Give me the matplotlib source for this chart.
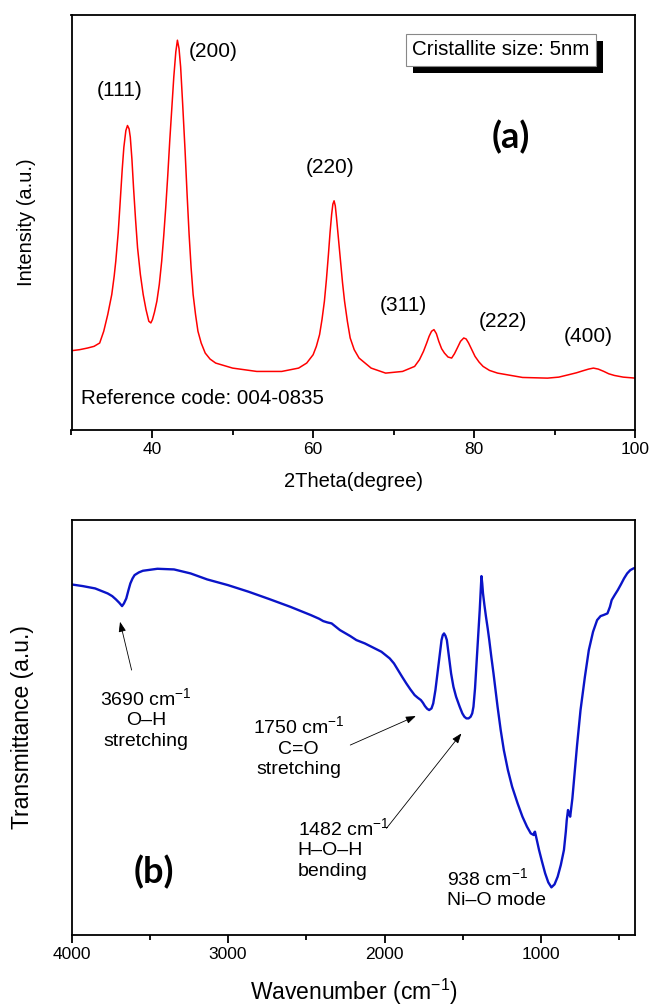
import numpy as np
from matplotlib import pyplot as plt
from matplotlib import patheffects
from matplotlib.ticker import MultipleLocator

plt.rcParams['font.family'] = ['Liberation Sans', 'DejaVu Sans']
plt.rcParams['mathtext.fontset'] = 'custom'
plt.rcParams['mathtext.rm'] = 'Liberation Sans'
plt.rcParams['mathtext.it'] = 'Liberation Sans:italic'
plt.rcParams['mathtext.bf'] = 'Liberation Sans:bold'

# XRD pattern (2theta in degree, intensity in a.u.)
two_theta = [30.0, 31.0, 32.0, 32.8, 33.5, 34.0, 34.5, 35.0, 35.3, 35.5,
             35.8, 36.0, 36.3, 36.5, 36.75, 36.95, 37.15, 37.3, 37.5, 37.7,
             37.95, 38.2, 38.55, 38.9, 39.25, 39.6, 39.85, 40.05, 40.3, 40.6,
             40.9, 41.2, 41.45, 41.7, 41.95, 42.2, 42.45, 42.7, 42.95, 43.15,
             43.35, 43.55, 43.8, 44.1, 44.35, 44.6, 44.85, 45.1, 45.4, 45.7,
             46.1, 46.6, 47.2, 47.9, 50.0, 53.0, 56.1, 58.2, 59.2, 60.0,
             60.4, 60.8, 61.1, 61.4, 61.65, 61.9, 62.1, 62.3, 62.45, 62.6,
             62.75, 62.9, 63.15, 63.4, 63.65, 63.9, 64.25, 64.6, 65.1, 65.7,
             67.2, 69.0, 71.1, 72.6, 73.2, 73.7, 74.1, 74.4, 74.7, 75.0,
             75.3, 75.6, 75.95, 76.3, 76.75, 77.2, 77.55, 77.9, 78.3, 78.7,
             79.0, 79.3, 79.7, 80.1, 80.6, 81.1, 81.9, 82.9, 86.0, 89.1,
             90.5, 91.7, 92.7, 93.5, 94.2, 94.8, 95.4, 96.1, 96.7, 97.4,
             98.5, 100.0]
intensity = [237, 240, 245, 250, 260, 295, 345, 405, 460, 505,
             590, 665, 780, 845, 895, 910, 900, 875, 810, 725,
             630, 545, 465, 405, 360, 325, 320, 330, 352, 385,
             435, 505, 580, 665, 760, 865, 960, 1055, 1130, 1165,
             1140, 1085, 975, 835, 705, 585, 485, 405, 345, 295,
             260, 230, 212, 200, 185, 175, 175, 185, 200, 225,
             250, 285, 330, 385, 450, 525, 590, 645, 675, 685,
             670, 635, 570, 505, 440, 385, 325, 275, 240, 215,
             185, 170, 175, 190, 210, 235, 260, 280, 295, 300,
             288, 265, 243, 230, 218, 215, 228, 245, 265, 275,
             272, 260, 240, 220, 203, 190, 178, 170, 157, 155,
             158, 165, 171, 177, 182, 185, 182, 175, 168, 163,
             158, 155]

peak_labels = ['(111)', '(200)', '(220)', '(311)', '(222)', '(400)']
peak_label_x = [36.0, 47.6, 62.1, 71.2, 83.6, 94.2]
peak_label_y = [1015, 1130, 785, 372, 323, 280]

# FTIR spectrum (wavenumber in cm-1, transmittance in a.u.)
wavenumber = [4000, 3928, 3849, 3769, 3740, 3716, 3695, 3677, 3665, 3650,
              3636, 3624, 3610, 3597, 3570, 3544, 3451, 3345, 3239, 3133,
              3001, 2868, 2736, 2603, 2471, 2418, 2392, 2365, 2338, 2285,
              2219, 2206, 2180, 2126, 2020, 1967, 1940, 1914, 1888, 1861,
              1835, 1808, 1788, 1768, 1755, 1742, 1728, 1715, 1700, 1689,
              1675, 1662, 1648, 1636, 1628, 1620, 1611, 1602, 1590, 1575,
              1560, 1543, 1520, 1503, 1490, 1477, 1463, 1450, 1440, 1432,
              1422, 1411, 1400, 1392, 1386, 1381, 1376, 1371, 1362, 1352,
              1341, 1331, 1318, 1304, 1291, 1278, 1258, 1238, 1212, 1185,
              1150, 1119, 1090, 1066, 1047, 1043, 1039, 1026, 1013, 994,
              974, 954, 934, 914, 894, 874, 854, 842, 836, 828,
              820, 814, 800, 788, 770, 748, 720, 695, 668, 642,
              620, 602, 576, 560, 549, 530, 510, 490, 470, 450,
              430, 410, 398]
transmittance = [1052, 1047, 1040, 1025, 1017, 1007, 997, 987, 995, 1010,
                 1035, 1055, 1070, 1080, 1088, 1093, 1099, 1097, 1085, 1067,
                 1050, 1030, 1008, 985, 960, 949, 942, 938, 935, 915,
                 897, 893, 885, 875, 850, 830, 815, 795, 775, 755,
                 737, 720, 712, 705, 697, 687, 679, 675, 680, 695,
                 735, 785, 840, 885, 900, 905, 898, 885, 840, 785,
                 745, 715, 685, 665, 655, 650, 650, 655, 665, 685,
                 740, 825, 910, 975, 1030, 1077, 1055, 1025, 990, 955,
                 920, 885, 835, 785, 735, 685, 615, 555, 495, 445,
                 395, 355, 325, 305, 300, 308, 310, 282, 255, 220,
                 185, 158, 143, 152, 175, 210, 255, 310, 345, 375,
                 362, 355, 410, 475, 570, 675, 775, 855, 910, 945,
                 957, 960, 965, 985, 1005, 1020, 1035, 1052, 1070, 1085,
                 1095, 1100, 1102]

fig = plt.figure(figsize=(6.5, 10.07), dpi=100)
ax1 = fig.add_axes([0.110, 0.573, 0.8674, 0.412])
ax2 = fig.add_axes([0.110, 0.0715, 0.8674, 0.412])

for ax in (ax1, ax2):
    for sp in ax.spines.values():
        sp.set_linewidth(1.3)
    ax.set_yticks([])
    ax.tick_params(axis='x', which='major', direction='out', length=5.5,
                   width=1.3, pad=3.5, labelsize=12.5)
    ax.tick_params(axis='x', which='minor', direction='out', length=3.5,
                   width=1.3)

# ---- (a) XRD ----
ax1.plot(two_theta, intensity, color='#ff0000', lw=1.1)
ax1.set_xlim(30, 100)
ax1.set_ylim(0, 1240)
ax1.xaxis.set_major_locator(MultipleLocator(20))
ax1.xaxis.set_minor_locator(MultipleLocator(10))
ax1.set_xlabel('2Theta(degree)', fontsize=14.5)
ax1.xaxis.set_label_coords(0.5, -0.102)
ax1.set_ylabel('Intensity (a.u.)', fontsize=14.5)
ax1.yaxis.set_label_coords(-0.063, 0.5)

for lab, x, y in zip(peak_labels, peak_label_x, peak_label_y):
    ax1.text(x, y, lab, fontsize=15, ha='center', va='center')

ax1.text(31.2, 93, 'Reference code: 004-0835', fontsize=14.8,
         ha='left', va='center')
ax1.text(84.6, 877, '(a)', fontsize=26, fontweight='bold', family='Lato',
         ha='center', va='center')

box = ax1.text(83.3, 0.916 * 1240, 'Cristallite size: 5nm', fontsize=14.8,
               ha='center', va='center',
               bbox=dict(boxstyle='square,pad=0.3', fc='white',
                         ec='#888888', lw=0.8))
box.get_bbox_patch().set_path_effects([
    patheffects.withSimplePatchShadow(offset=(5, -5), shadow_rgbFace='black',
                                      alpha=1.0)])

# ---- (b) FTIR ----
ax2.plot(wavenumber, transmittance, color='#0a14c8', lw=1.7)
ax2.set_xlim(4000, 398)
ax2.set_ylim(0, 1245)
ax2.xaxis.set_major_locator(MultipleLocator(1000))
ax2.xaxis.set_minor_locator(MultipleLocator(500))
ax2.set_xlabel('Wavenumber (cm$^{-1}$)', fontsize=16.5)
ax2.xaxis.set_label_coords(0.5, -0.1)
ax2.set_ylabel('Transmittance (a.u.)', fontsize=16.5)
ax2.yaxis.set_label_coords(-0.066, 0.5)

arrow = dict(arrowstyle='-|>,head_length=0.6,head_width=0.22', color='black',
             lw=0.6, shrinkA=0, shrinkB=0)
ax2.annotate('', xy=(3690, 940), xytext=(3616, 795), arrowprops=arrow)
ax2.annotate('', xy=(1800, 657), xytext=(2219, 570), arrowprops=arrow)
ax2.annotate('', xy=(1509, 605), xytext=(1988, 320), arrowprops=arrow)

ax2.text(3523, 650, '3690 cm$^{-1}$\nO–H\nstretching', fontsize=14,
         ha='center', va='center', multialignment='center', linespacing=1.25)
ax2.text(2550, 565, '1750 cm$^{-1}$\nC=O\nstretching', fontsize=14,
         ha='center', va='center', multialignment='center', linespacing=1.25)
ax2.text(2556, 260, '1482 cm$^{-1}$\nH–O–H\nbending', fontsize=14,
         ha='left', va='center', multialignment='left', linespacing=1.25)
ax2.text(1604, 140, '938 cm$^{-1}$\nNi–O mode', fontsize=14,
         ha='left', va='center', multialignment='left', linespacing=1.25)
ax2.text(3473, 190, '(b)', fontsize=26, fontweight='bold', family='Lato',
         ha='center', va='center')

fig.savefig('out.png', dpi=100, facecolor='white')
